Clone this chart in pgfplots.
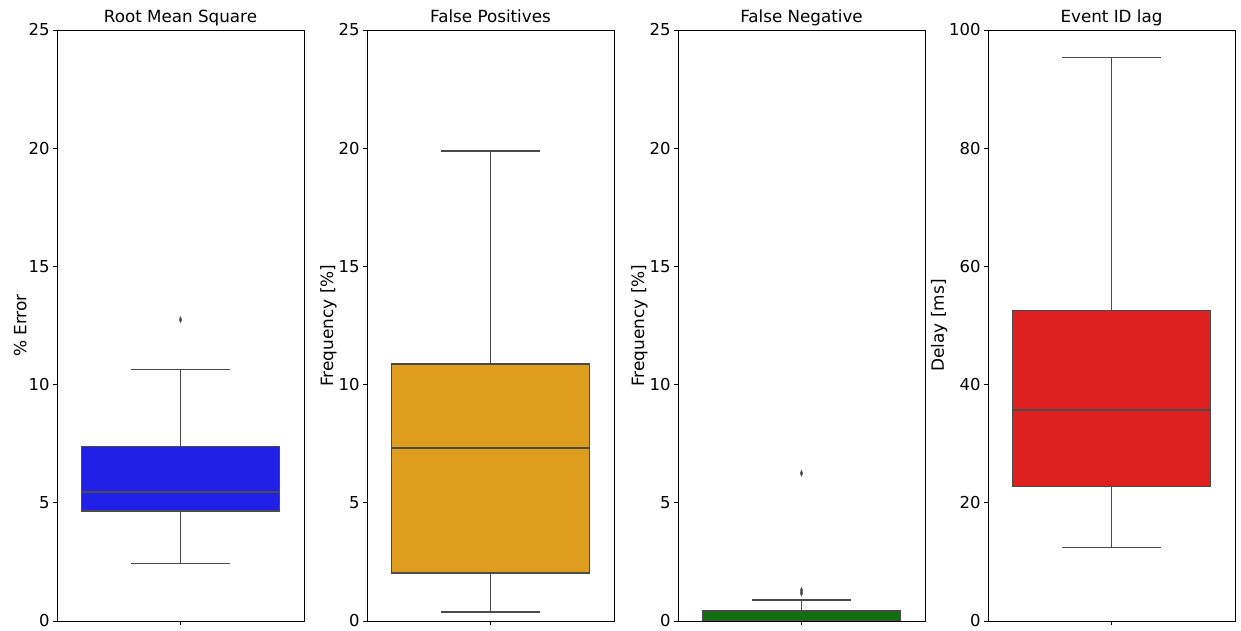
\documentclass[border=0pt]{standalone}
\usepackage{pgfplots}
\pgfplotsset{compat=1.18}
\usepgfplotslibrary{statistics}
\usepackage{fontspec}
\setmainfont{DejaVu Sans}
\definecolor{cblue}{HTML}{2020E6}
\definecolor{corange}{HTML}{DF9D20}
\definecolor{cgreen}{HTML}{107010}
\definecolor{cred}{HTML}{DF2020}
\definecolor{lgray}{HTML}{4A4A4A}
\pgfplotsset{
  myax/.style={
    scale only axis, width=247bp, height=591bp,
    xmin=-0.5, xmax=0.5, ymin=0,
    xtick={0}, xticklabels={},
    tick align=outside, tick pos=left,
    major tick length=4bp,
    axis line style={black, line width=0.8bp},
    tick style={black, line width=0.8bp},
    ticklabel style={font=\fontsize{16.5}{19}\selectfont},
    label style={font=\fontsize{17}{20}\selectfont},
    title style={font=\fontsize{16.8}{20}\selectfont, at={(0.5,1)}, anchor=base, yshift=1.5bp},
    /pgf/number format/assume math mode=true,
    ylabel style={yshift=-5bp},
    boxplot/draw direction=y,
    boxplot/box extend=0.8,
    boxplot/whisker extend=0.4,
    boxplot/every box/.style={draw=lgray, line width=1.25bp},
    boxplot/every whisker/.style={draw=lgray, line width=1.1bp},
    boxplot/every median/.style={draw=lgray, line width=1.25bp},
  },
  outl/.style={mark=diamond*, mark size=3bp, mark options={xscale=0.55, fill=lgray, draw=lgray}, only marks},
}
\begin{document}
\begin{tikzpicture}
\begin{axis}[myax, at={(57bp,0)}, ymax=25, ytick={0,5,10,15,20,25}, title={Root Mean Square}, ylabel={\% Error}]
\addplot[fill=cblue, outl, boxplot prepared={draw position=0, lower whisker=2.45, lower quartile=4.65, median=5.46, upper quartile=7.38, upper whisker=10.62}]
  table[row sep=\\, y index=0] {y\\ 12.75\\};
\end{axis}
\begin{axis}[myax, at={(367bp,0)}, ymax=25, ytick={0,5,10,15,20,25}, title={False Positives}, ylabel={Frequency [\%]}]
\addplot[fill=corange, outl, boxplot prepared={draw position=0, lower whisker=0.38, lower quartile=2.03, median=7.32, upper quartile=10.87, upper whisker=19.88}]
  coordinates {};
\end{axis}
\begin{axis}[myax, at={(678bp,0)}, ymax=25, ytick={0,5,10,15,20,25}, title={False Negative}, ylabel={Frequency [\%]}]
\addplot[fill=cgreen, outl, boxplot prepared={draw position=0, lower whisker=0, lower quartile=0, median=0, upper quartile=0.42, upper whisker=0.89}]
  table[row sep=\\, y index=0] {y\\ 1.18\\ 1.30\\ 6.25\\};
\end{axis}
\begin{axis}[myax, at={(988bp,0)}, ymax=100, ytick={0,20,40,60,80,100}, title={Event ID lag}, ylabel={Delay [ms]}]
\addplot[fill=cred, outl, boxplot prepared={draw position=0, lower whisker=12.4, lower quartile=22.8, median=35.7, upper quartile=52.5, upper whisker=95.3}]
  coordinates {};
\end{axis}
\pgfresetboundingbox
\useasboundingbox (0,-10bp) rectangle (1241bp,621bp);
\end{tikzpicture}
\end{document}
